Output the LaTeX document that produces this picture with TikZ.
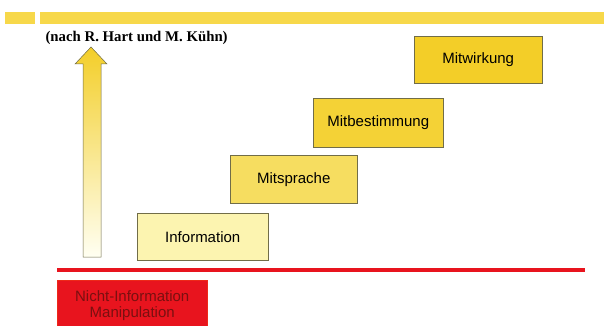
\documentclass[tikz,border=0pt]{standalone}
\usepackage{fontspec}
\setmainfont{Liberation Sans}
\newfontfamily\serifbold{Liberation Serif}
\begin{document}
\begin{tikzpicture}[x=1pt,y=-1pt,
  stepbox/.style={draw=black!55!yellow!80!black, line width=0.5pt, inner sep=0pt, font=\fontsize{15}{17}\selectfont},
  title/.style={font=\serifbold\bfseries\fontsize{14.8}{16}\selectfont, anchor=west}]
\definecolor{barY}{HTML}{F7D84A}
\definecolor{infoY}{HTML}{FCF4B0}
\definecolor{sprY}{HTML}{F6DD60}
\definecolor{bestY}{HTML}{F4D236}
\definecolor{wirkY}{HTML}{F3CE28}
\definecolor{redC}{HTML}{E8141E}
\definecolor{redT}{HTML}{7A1010}
\useasboundingbox (0,0) rectangle (604,326);
% top bar
\fill[barY] (5,12) rectangle (35,24);
\fill[barY] (40,12) rectangle (604,24);
\node[title] (t) at (42,38) {(nach R. Hart und M. Kühn)};
% arrow
\shade[top color=wirkY, bottom color=yellow!5, draw=black!50!yellow!70!black, line width=0.5pt]
  (83,257) -- (83,64) -- (75,64) -- (91,47) -- (107,64) -- (101,64) -- (101,257) -- cycle;
% boxes
\node[stepbox, fill=infoY, minimum width=131, minimum height=47, anchor=north west] (info) at (137,213) {Information};
\node[stepbox, fill=sprY, minimum width=127, minimum height=48, anchor=north west] (spr) at (230,155) {Mitsprache};
\node[stepbox, fill=bestY, minimum width=130, minimum height=49, anchor=north west] (best) at (313,98) {Mitbestimmung};
\node[stepbox, fill=wirkY, minimum width=128, minimum height=47, anchor=north west] (wirk) at (414,36) {Mitwirkung};
% red line
\coordinate (rl) at (57,270);
\coordinate (rr) at (585,270);
\draw[redC, line width=3.5pt] (rl) -- (rr);
% red box
\node[fill=redC, draw=redC!80!orange, minimum width=150, minimum height=50, anchor=north west, inner sep=0pt, align=center, text=redT, font=\fontsize{15}{16}\selectfont] (manip) at (57,280) {Nicht-Information\\Manipulation};
\end{tikzpicture}
\end{document}
